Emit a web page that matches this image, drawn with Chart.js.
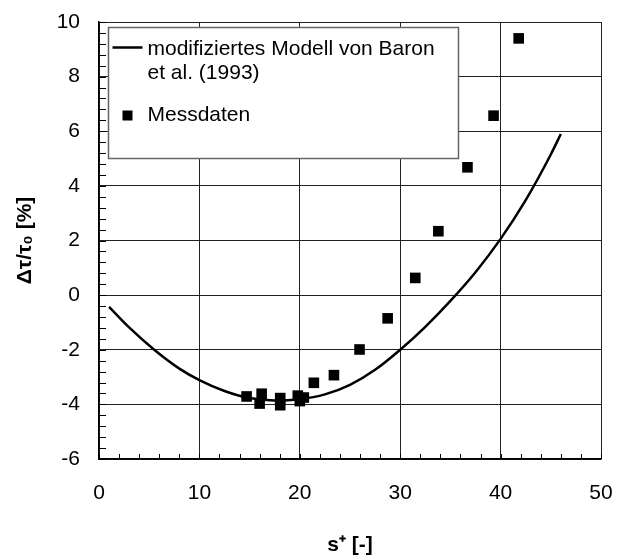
<!DOCTYPE html>
<html>
<head>
<meta charset="utf-8">
<script src="https://cdn.jsdelivr.net/npm/chart.js@4/dist/chart.umd.min.js"></script>
<style>
  html, body { margin: 0; padding: 0; background: #fff; }
  #wrap { width: 617px; height: 559px; }
</style>
</head>
<body>
<div id="wrap"><canvas id="chart"></canvas></div>
<script>
// model curve
const modelX = [1, 3, 5.5, 8, 10, 12.5, 15, 17.5, 20, 22.5, 25, 27.5, 30, 32.5, 35, 37.5, 40, 42.5, 45, 46];
const modelY = [-0.43, -1.18, -2.0, -2.69, -3.11, -3.51, -3.77, -3.86, -3.81, -3.635, -3.285, -2.735, -2.0, -1.16, -0.21, 0.84, 2.06, 3.48, 5.15, 5.9];

// measured points
const measX = [14.7, 16.2, 16.0, 18.05, 18.05, 19.8, 20.4, 20.0, 21.4, 23.4, 25.95, 28.75, 31.5, 33.8, 36.7, 39.3, 41.8];
const measY = [-3.71, -3.61, -3.97, -3.77, -4.03, -3.68, -3.75, -3.88, -3.21, -2.93, -1.99, -0.85, 0.63, 2.34, 4.68, 6.57, 9.40];

// labels
const modelLabel = ['modifiziertes Modell von Baron', 'et al. (1993)'];
const measLabel = 'Messdaten';
const xTitle = 's\u207A [-]';
const yTitle = '\u0394\u03C4/\u03C4\u2080 [%]';

const FONT = '"Liberation Sans", Arial, sans-serif';

// small inward ticks on the bottom and left axes
const minorTicks = {
    id: 'minorTicks',
    afterDraw(chart) {
        const ctx = chart.ctx;
        const xs = chart.scales.x, ys = chart.scales.y;
        const area = chart.chartArea;
        ctx.save();
        ctx.strokeStyle = '#000';
        ctx.lineWidth = 1;
        ctx.beginPath();
        for (let i = 0; i <= 25; i++) {
            const px = Math.round(xs.getPixelForValue(i * 2)) + 0.5;
            ctx.moveTo(px, area.bottom);
            ctx.lineTo(px, area.bottom - 5);
        }
        for (let i = 0; i <= 40; i++) {
            const py = Math.round(ys.getPixelForValue(-6 + i * 0.4)) + 0.5;
            ctx.moveTo(area.left, py);
            ctx.lineTo(area.left + 7, py);
        }
        ctx.stroke();
        ctx.restore();
    }
};

// boxed legend inside the plot, top left
const boxLegend = {
    id: 'boxLegend',
    afterDraw(chart) {
        const ctx = chart.ctx;
        const area = chart.chartArea;
        const left = area.left + 9.5, top = area.top + 5.5;
        ctx.save();
        ctx.fillStyle = '#fff';
        ctx.strokeStyle = '#666';
        ctx.lineWidth = 1.5;
        ctx.fillRect(left, top, 350, 131);
        ctx.strokeRect(left, top, 350, 131);

        ctx.strokeStyle = '#000';
        ctx.lineWidth = 2.5;
        ctx.beginPath();
        ctx.moveTo(left + 4, top + 20);
        ctx.lineTo(left + 34, top + 20);
        ctx.stroke();

        ctx.fillStyle = '#000';
        ctx.fillRect(left + 14, top + 83, 10, 10);

        ctx.font = '21px ' + FONT;
        ctx.textBaseline = 'middle';
        ctx.textAlign = 'left';
        ctx.fillText(modelLabel[0], left + 39, top + 22);
        ctx.fillText(modelLabel[1], left + 39, top + 46);
        ctx.fillText(measLabel, left + 39, top + 88);
        ctx.restore();
    }
};

const ctx = document.getElementById('chart').getContext('2d');

const chart = new Chart(ctx, {
    type: 'scatter',
    data: {
        datasets: [{
            label: modelLabel.join(' '),
            data: modelX.map((x, i) => ({ x: x, y: modelY[i] })),
            showLine: true,
            borderColor: '#000',
            borderWidth: 2.5,
            pointRadius: 0,
            cubicInterpolationMode: 'monotone',
            fill: false
        }, {
            label: measLabel,
            data: measX.map((x, i) => ({ x: x, y: measY[i] })),
            pointStyle: 'rect',
            pointRadius: 7.5,
            backgroundColor: '#000',
            borderWidth: 0
        }]
    },
    options: {
        responsive: true,
        maintainAspectRatio: false,
        animation: false,
        layout: { padding: { top: 22, right: 16, left: 0, bottom: 0 } },
        plugins: {
            legend: { display: false },
            tooltip: { enabled: false }
        },
        scales: {
            x: {
                type: 'linear',
                min: 0,
                max: 50,
                afterFit: function(scale) { scale.height = 100; },
                ticks: {
                    stepSize: 10,
                    padding: 0,
                    color: '#000',
                    font: { family: FONT, size: 21 }
                },
                // invisible tick marks only push the labels down
                grid: { color: '#222', lineWidth: 1, drawTicks: true, tickLength: 22, tickColor: 'rgba(0,0,0,0)' },
                border: { color: '#000', width: 1.5 },
                title: {
                    display: true,
                    text: xTitle,
                    color: '#000',
                    font: { family: FONT, size: 21, weight: 'bold' },
                    padding: { top: 0, bottom: 1 }
                }
            },
            y: {
                type: 'linear',
                min: -6,
                max: 10,
                afterFit: function(scale) { scale.width = 99; },
                ticks: {
                    stepSize: 2,
                    padding: 0,
                    color: '#000',
                    font: { family: FONT, size: 21 }
                },
                grid: { color: '#222', lineWidth: 1, drawTicks: true, tickLength: 19, tickColor: 'rgba(0,0,0,0)' },
                border: { color: '#000', width: 1.5 },
                title: {
                    display: true,
                    text: yTitle,
                    color: '#000',
                    font: { family: FONT, size: 21, weight: 'bold' },
                    padding: { top: 13, bottom: 0 }
                }
            }
        }
    },
    plugins: [minorTicks, boxLegend]
});
</script>
</body>
</html>
